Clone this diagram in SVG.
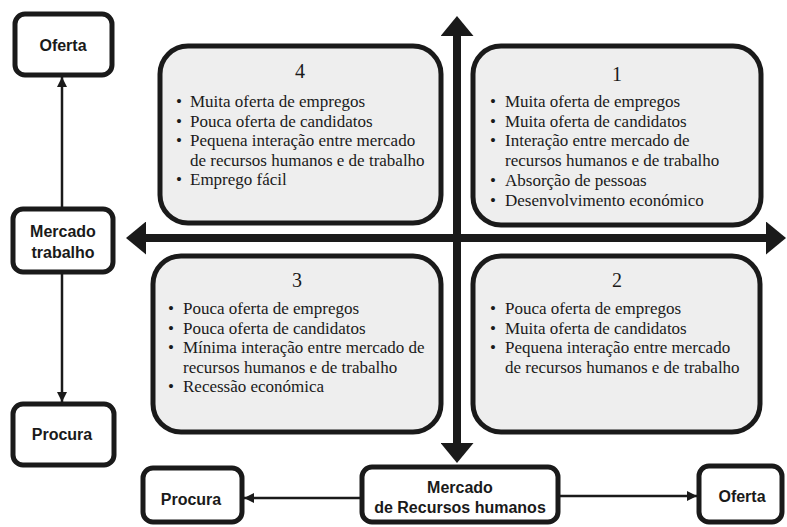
<svg xmlns="http://www.w3.org/2000/svg" width="787" height="527" viewBox="0 0 787 527">
<style>
.q{fill:#eeeeee;stroke:#1a1a1a;stroke-width:5}
.n{fill:#ffffff;stroke:#1a1a1a;stroke-width:5}
.t{font-family:"Liberation Serif","Times New Roman",serif;font-size:17px;fill:#1a1a1a}
.h{font-family:"Liberation Serif","Times New Roman",serif;font-size:20px;fill:#1a1a1a;text-anchor:middle}
.s{font-family:"Liberation Sans",Arial,sans-serif;font-size:16px;font-weight:bold;fill:#1a1a1a;text-anchor:middle}
.ax{stroke:#1a1a1a;stroke-width:8;fill:none}
.ln{stroke:#1a1a1a;stroke-width:2.5;fill:none}
</style>
<defs>
<marker id="big" viewBox="0 0 20 33" refX="0" refY="16.5" markerWidth="20" markerHeight="33" markerUnits="userSpaceOnUse" orient="auto-start-reverse">
<path d="M0,0 L20,16.5 L0,33 Z" fill="#1a1a1a"/>
</marker>
<marker id="sm" viewBox="0 0 10 10" refX="10" refY="5" markerWidth="10" markerHeight="10" markerUnits="userSpaceOnUse" orient="auto">
<path d="M0,0 L10,5 L0,10 Z" fill="#1a1a1a"/>
</marker>
</defs>

<g id="q4">
<rect class="q" x="160" y="46" width="281" height="177" rx="28"/>
<text class="h" x="300" y="78">4</text>
<text class="t" x="176" y="107">•</text><text class="t" x="190" y="107">Muita oferta de empregos</text>
<text class="t" x="176" y="126.5">•</text><text class="t" x="190" y="126.5">Pouca oferta de candidatos</text>
<text class="t" x="176" y="146">•</text><text class="t" x="190" y="146">Pequena interação entre mercado</text>
<text class="t" x="190" y="165.5">de recursos humanos e de trabalho</text>
<text class="t" x="176" y="185">•</text><text class="t" x="190" y="185">Emprego fácil</text>
</g>

<g id="q1">
<rect class="q" x="473" y="46" width="288" height="179" rx="28"/>
<text class="h" x="617" y="81">1</text>
<text class="t" x="490" y="107">•</text><text class="t" x="505" y="107">Muita oferta de empregos</text>
<text class="t" x="490" y="126.7">•</text><text class="t" x="505" y="126.7">Muita oferta de candidatos</text>
<text class="t" x="490" y="146.4">•</text><text class="t" x="505" y="146.4">Interação entre mercado de</text>
<text class="t" x="505" y="166.1">recursos humanos e de trabalho</text>
<text class="t" x="490" y="185.8">•</text><text class="t" x="505" y="185.8">Absorção de pessoas</text>
<text class="t" x="490" y="205.5">•</text><text class="t" x="505" y="205.5">Desenvolvimento económico</text>
</g>

<g id="q3">
<rect class="q" x="153" y="256" width="288" height="176" rx="28"/>
<text class="h" x="297" y="287">3</text>
<text class="t" x="168" y="314">•</text><text class="t" x="183" y="314">Pouca oferta de empregos</text>
<text class="t" x="168" y="333.5">•</text><text class="t" x="183" y="333.5">Pouca oferta de candidatos</text>
<text class="t" x="168" y="353">•</text><text class="t" x="183" y="353">Mínima interação entre mercado de</text>
<text class="t" x="183" y="372.5">recursos humanos e de trabalho</text>
<text class="t" x="168" y="392">•</text><text class="t" x="183" y="392">Recessão económica</text>
</g>

<g id="q2">
<rect class="q" x="473" y="256" width="287" height="176" rx="28"/>
<text class="h" x="617" y="287">2</text>
<text class="t" x="490" y="314">•</text><text class="t" x="505" y="314">Pouca oferta de empregos</text>
<text class="t" x="490" y="333.5">•</text><text class="t" x="505" y="333.5">Muita oferta de candidatos</text>
<text class="t" x="490" y="353">•</text><text class="t" x="505" y="353">Pequena interação entre mercado</text>
<text class="t" x="505" y="372.5">de recursos humanos e de trabalho</text>
</g>

<g id="oferta-trabalho">
<rect class="n" x="15" y="14" width="97" height="61" rx="10"/>
<text class="s" x="63" y="51">Oferta</text>
</g>
<g id="mercado-trabalho">
<rect class="n" x="13" y="209" width="100" height="63" rx="10"/>
<text class="s" x="63" y="237">Mercado</text>
<text class="s" x="63" y="258">trabalho</text>
</g>
<g id="procura-trabalho">
<rect class="n" x="13" y="404" width="101" height="61" rx="10"/>
<text class="s" x="62" y="440">Procura</text>
</g>
<g id="procura-rh">
<rect class="n" x="143" y="468" width="99" height="54" rx="10"/>
<text class="s" x="191" y="505">Procura</text>
</g>
<g id="mercado-rh">
<rect class="n" x="362" y="467" width="196" height="55" rx="10"/>
<text class="s" x="460" y="493">Mercado</text>
<text class="s" x="460" y="513">de Recursos humanos</text>
</g>
<g id="oferta-rh">
<rect class="n" x="699" y="466" width="83" height="56" rx="10"/>
<text class="s" x="742" y="502">Oferta</text>
</g>

<g id="connectors">
<line class="ax" x1="457" y1="36" x2="457" y2="443" marker-start="url(#big)" marker-end="url(#big)"/>
<line class="ax" x1="146" y1="238" x2="766" y2="238" marker-start="url(#big)" marker-end="url(#big)"/>
<line class="ln" x1="62" y1="207" x2="62" y2="77" marker-end="url(#sm)"/>
<line class="ln" x1="62" y1="274" x2="62" y2="402" marker-end="url(#sm)"/>
<line class="ln" x1="360" y1="498" x2="244" y2="498" marker-end="url(#sm)"/>
<line class="ln" x1="560" y1="496" x2="697" y2="496" marker-end="url(#sm)"/>
</g>
</svg>
